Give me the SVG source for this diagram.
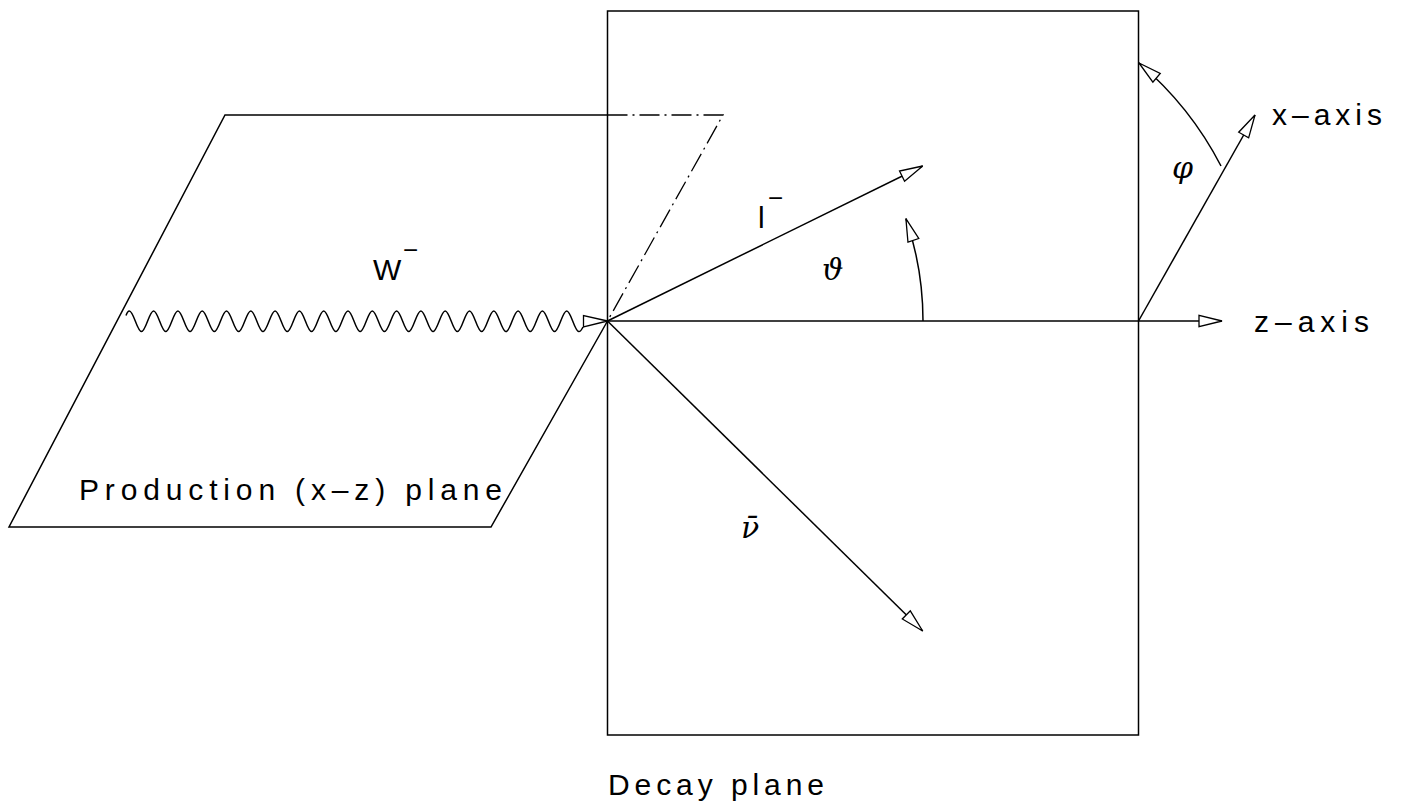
<svg xmlns="http://www.w3.org/2000/svg" width="1406" height="810" viewBox="0 0 1406 810">
<style>
 .ln{fill:none;stroke:#000;stroke-width:1.5}
 .dd{fill:none;stroke:#000;stroke-width:1.3;stroke-dasharray:20 5 2 5}
 .ar{fill:none;stroke:#000;stroke-width:1.5;marker-end:url(#ah)}
 .lbl{font-family:"Liberation Sans",Arial,sans-serif;font-size:30px;fill:#000}
 .sup{font-family:"Liberation Sans",Arial,sans-serif;font-size:26px;font-style:normal}
 .gr{font-family:"DejaVu Serif","Liberation Serif",serif;font-style:italic;font-size:30px;fill:#000}
 .head{fill:#fff;stroke:#000;stroke-width:1.3}
</style>
<defs>
<marker id="ah" markerUnits="userSpaceOnUse" orient="auto" refX="0" refY="0" markerWidth="40" markerHeight="20" style="overflow:visible">
<path class="head" d="M0,0 L-23,-5.7 L-23,5.7 Z"/>
</marker>
</defs>
<rect width="1406" height="810" fill="#fff"/>

<g id="decay-plane">
<rect class="ln" x="607.5" y="11" width="531" height="724"/>
<text class="lbl" x="608" y="795" textLength="216" lengthAdjust="spacing">Decay plane</text>
</g>

<g id="production-plane">
<path class="ln" d="M607.5,115 L225,115 L9,527 L491,527 L607.5,321"/>
<path class="dd" d="M607.5,115 L723,115 L607.5,321"/>
<text class="lbl" x="79" y="499.5" textLength="423" lengthAdjust="spacing">Production (x–z) plane</text>
</g>

<g id="connectors">
<path id="w-wave" class="ln" d="M126,315.5 C127.2,312.3 128.2,311 129.3,311 c4.42,0 7.73,20.6 12.15,20.6 c4.42,0 7.73,-20.6 12.15,-20.6 c4.42,0 7.73,20.6 12.15,20.6 c4.42,0 7.73,-20.6 12.15,-20.6 c4.42,0 7.73,20.6 12.15,20.6 c4.42,0 7.73,-20.6 12.15,-20.6 c4.42,0 7.73,20.6 12.15,20.6 c4.42,0 7.73,-20.6 12.15,-20.6 c4.42,0 7.73,20.6 12.15,20.6 c4.42,0 7.73,-20.6 12.15,-20.6 c4.42,0 7.73,20.6 12.15,20.6 c4.42,0 7.73,-20.6 12.15,-20.6 c4.42,0 7.73,20.6 12.15,20.6 c4.42,0 7.73,-20.6 12.15,-20.6 c4.42,0 7.73,20.6 12.15,20.6 c4.42,0 7.73,-20.6 12.15,-20.6 c4.42,0 7.73,20.6 12.15,20.6 c4.42,0 7.73,-20.6 12.15,-20.6 c4.42,0 7.73,20.6 12.15,20.6 c4.42,0 7.73,-20.6 12.15,-20.6 c4.42,0 7.73,20.6 12.15,20.6 c4.42,0 7.73,-20.6 12.15,-20.6 c4.42,0 7.73,20.6 12.15,20.6 c4.42,0 7.73,-20.6 12.15,-20.6 c4.42,0 7.73,20.6 12.15,20.6 c4.42,0 7.73,-20.6 12.15,-20.6 c4.42,0 7.73,20.6 12.15,20.6 c4.42,0 7.73,-20.6 12.15,-20.6 c4.42,0 7.73,20.6 12.15,20.6 c4.42,0 7.73,-20.6 12.15,-20.6 c4.42,0 7.73,20.6 12.15,20.6 c4.42,0 7.73,-20.6 12.15,-20.6 c4.42,0 7.73,20.6 12.15,20.6 c4.42,0 7.73,-20.6 12.15,-20.6 c4.42,0 7.73,20.6 12.15,20.6 c4.42,0 7.73,-20.6 12.15,-20.6 c4.42,0 7.73,20.6 12.15,20.6 c1.6,0 3,-2.2 4.15,-4.6"/>
<polygon class="head" points="583.5,315.5 583.5,327 607.5,321"/>
<path id="lepton" class="ar" d="M607.5,321 L922.7,166"/>
<path id="neutrino" class="ar" d="M607.5,321 L922.7,631"/>
<path id="z-axis" class="ar" d="M607.5,321 L1222,321"/>
<path id="x-axis" class="ar" d="M1138.5,321 L1255,115"/>
<path id="theta-arc" class="ar" d="M923,321 A316,316 0 0 0 905.9,218.6"/>
<path id="phi-arc" class="ar" d="M1221,166 A338,338 0 0 0 1139,63"/>
</g>

<g id="label-W"><text class="lbl" x="373" y="279.5">W<tspan class="sup" x="403" y="259">−</tspan></text></g>
<g id="label-l"><text class="lbl" x="758" y="228">l<tspan class="sup" x="768" y="207">−</tspan></text></g>
<g id="label-theta"><text class="gr" x="822" y="280">ϑ</text></g>
<g id="label-phi"><text class="gr" x="1172" y="178" style="font-size:30px">φ</text></g>
<g id="label-nu"><text class="gr" x="741" y="538.3">ν̄</text></g>
<g id="label-x-axis"><text class="lbl" x="1272" y="125" textLength="110" lengthAdjust="spacing">x–axis</text></g>
<g id="label-z-axis"><text class="lbl" x="1254" y="331.7" textLength="115" lengthAdjust="spacing">z–axis</text></g>
</svg>
